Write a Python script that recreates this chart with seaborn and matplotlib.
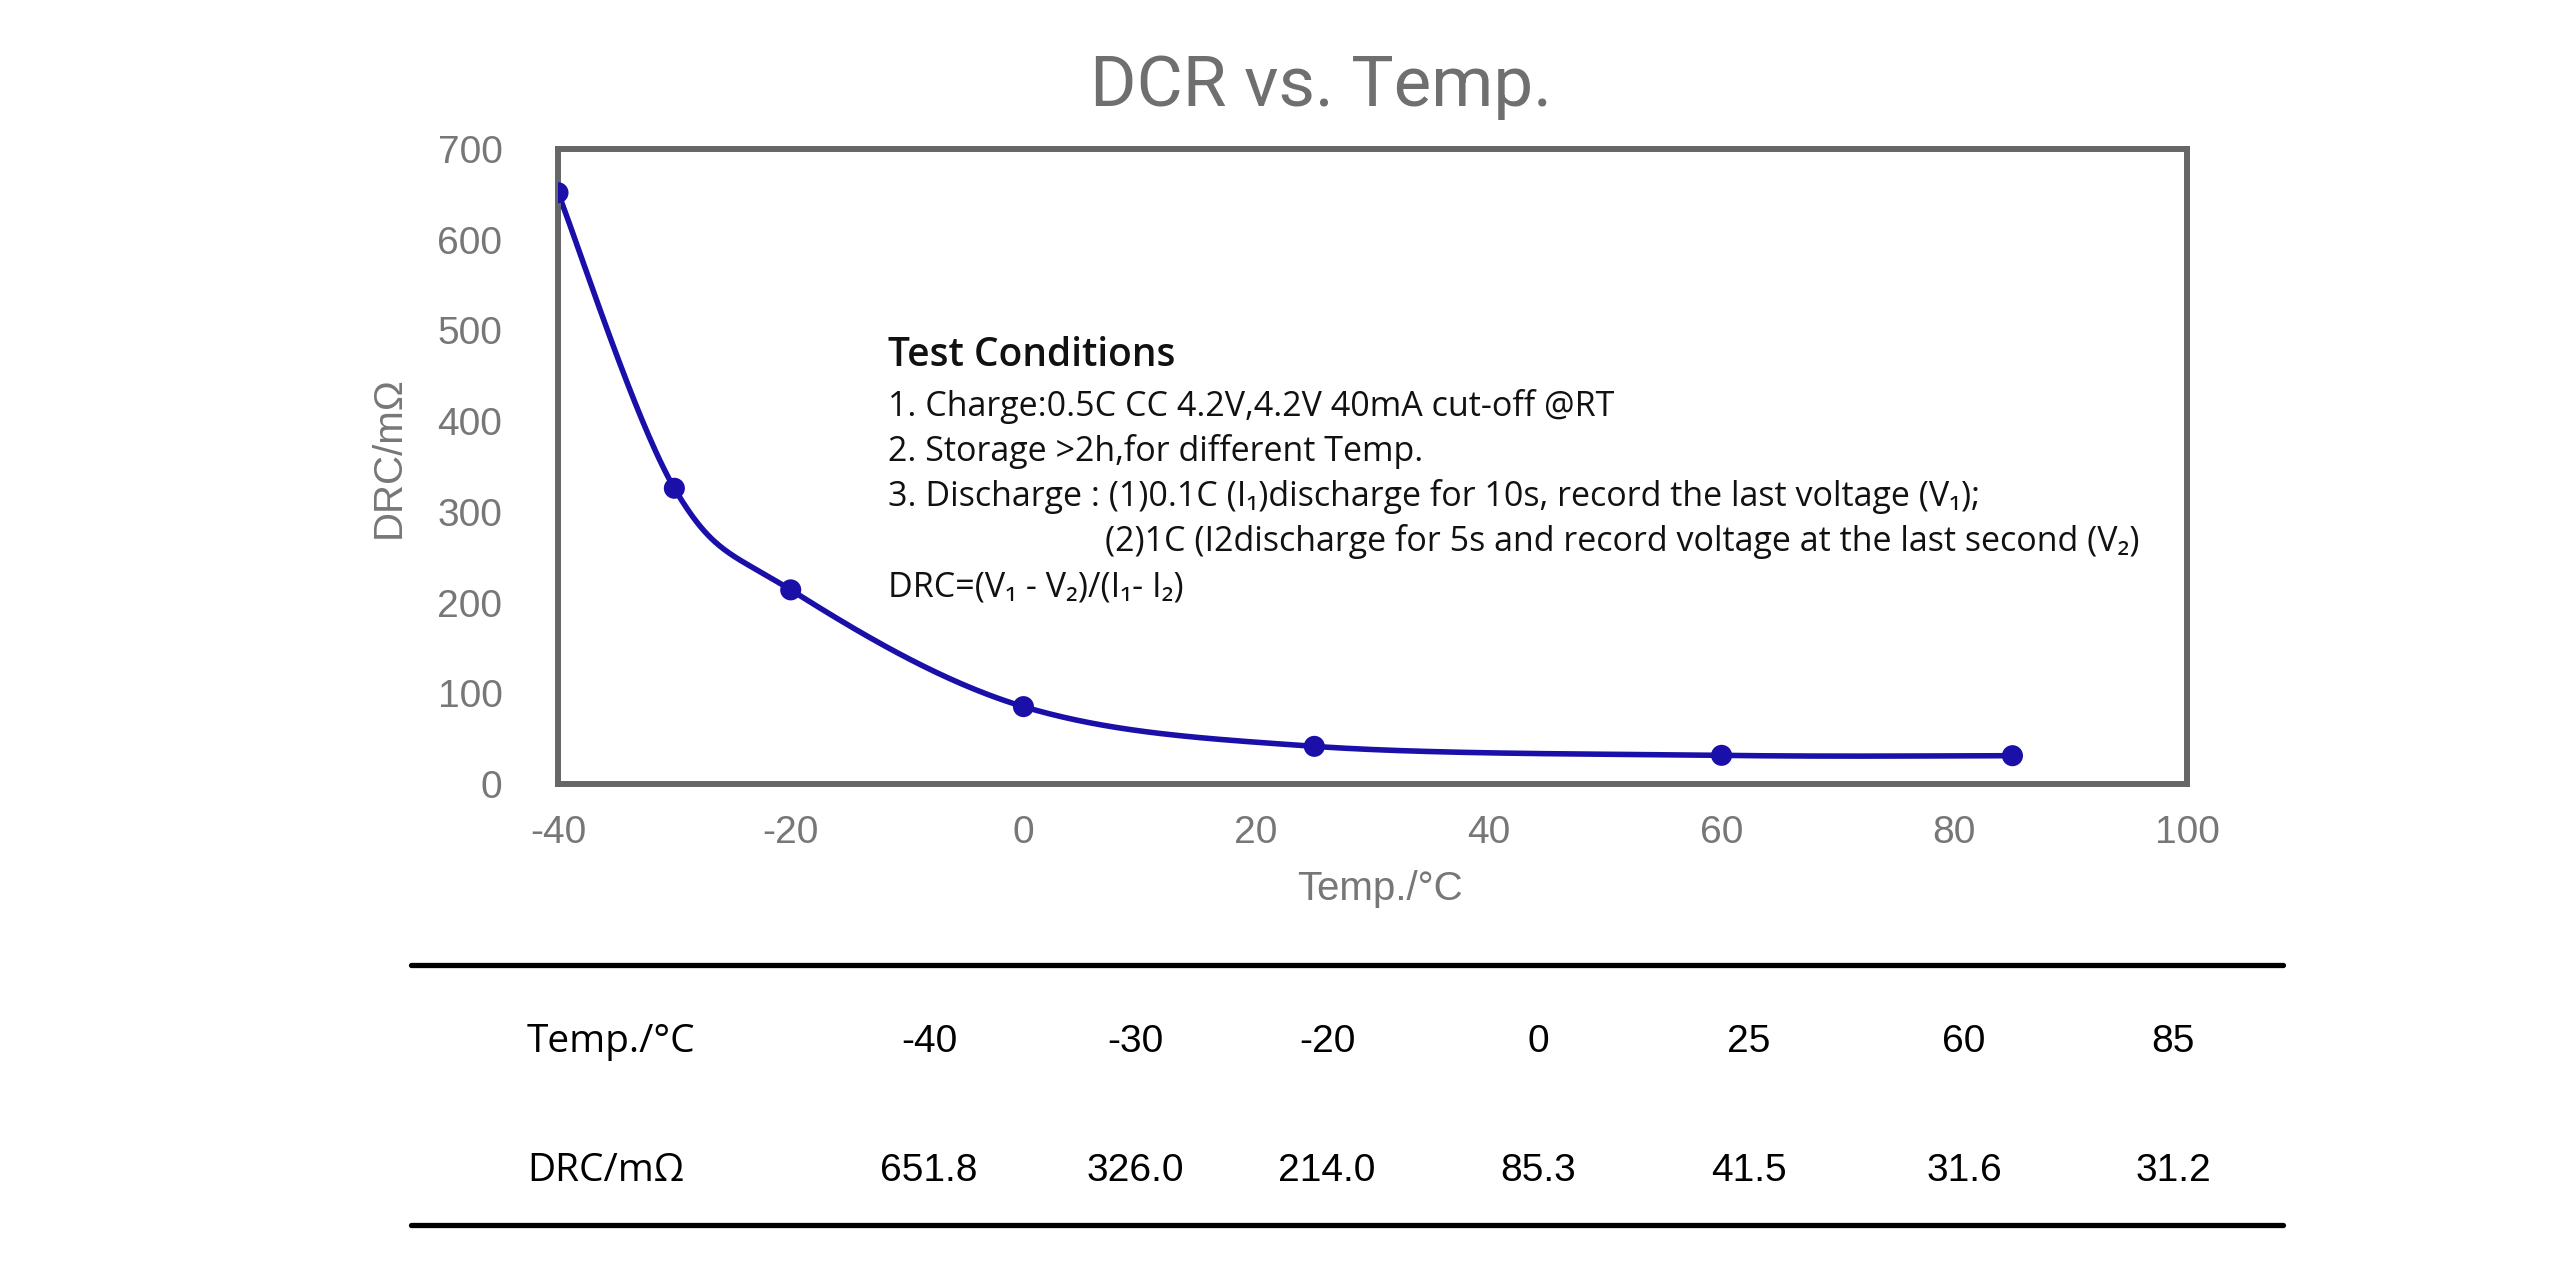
import numpy as np
import pandas as pd
import matplotlib
matplotlib.use("Agg")
import matplotlib.pyplot as plt
import seaborn as sns

# ---- data ----
temps = [-40, -30, -20, 0, 25, 60, 85]
drc = [651.8, 326.0, 214.0, 85.3, 41.5, 31.6, 31.2]
temp_labels = ["-40", "-30", "-20", "0", "25", "60", "85"]
drc_labels = ["651.8", "326.0", "214.0", "85.3", "41.5", "31.6", "31.2"]
x_ticks = [-40, -20, 0, 20, 40, 60, 80, 100]
y_ticks = [0, 100, 200, 300, 400, 500, 600, 700]
title = "DCR vs. Temp."
x_label = "Temp./°C"
y_label = "DRC/mΩ"
cond_title = "Test Conditions"
cond_lines = [
    "1. Charge:0.5C CC 4.2V,4.2V 40mA cut-off @RT",
    "2. Storage >2h,for different Temp.",
    "3. Discharge : (1)0.1C (I₁)discharge for 10s, record the last voltage (V₁);",
    "(2)1C (I2discharge for 5s and record voltage at the last second (V₂)",
    "DRC=(V₁ - V₂)/(I₁- I₂)",
]
row_headers = ["Temp./°C", "DRC/mΩ"]

# ---- style ----
sns.set_theme(style="white")
plt.rcParams["font.family"] = ["Liberation Sans", "DejaVu Sans"]
plt.rcParams["axes.unicode_minus"] = False

W, H = 2560, 1283
fig = plt.figure(figsize=(W / 100, H / 100), dpi=100)

ax_l, ax_r, ax_t, ax_b = 558, 2187, 149, 784
ax = fig.add_axes([ax_l / W, 1 - ax_b / H, (ax_r - ax_l) / W, (ax_b - ax_t) / H])
ax.set_xlim(-40, 100)
ax.set_ylim(0, 700)

# smooth curve (Excel-like Catmull-Rom smoothing) computed in screen-scaled units
sx = (ax_r - ax_l) / 140.0
sy = (ax_b - ax_t) / 700.0
P = np.column_stack([np.array(temps, float) * sx, np.array(drc, float) * sy])
n = len(P)
curve = []
for i in range(n - 1):
    p0 = P[i - 1] if i > 0 else P[i]
    p1 = P[i]
    p2 = P[i + 1]
    p3 = P[i + 2] if i + 2 < n else P[i + 1]
    c1 = p1 + (p2 - p0) / 6.0
    c2 = p2 - (p3 - p1) / 6.0
    t = np.linspace(0, 1, 60)[:, None]
    seg = (1 - t) ** 3 * p1 + 3 * (1 - t) ** 2 * t * c1 + 3 * (1 - t) * t ** 2 * c2 + t ** 3 * p2
    curve.append(seg if i == 0 else seg[1:])
curve = np.vstack(curve)
curve_df = pd.DataFrame({"x": curve[:, 0] / sx, "y": curve[:, 1] / sy})
pts_df = pd.DataFrame({"x": temps, "y": drc})

line_color = "#1a0fa8"
sns.lineplot(data=curve_df, x="x", y="y", sort=False, estimator=None,
             color=line_color, linewidth=4.0, ax=ax)
sns.scatterplot(data=pts_df, x="x", y="y", color=line_color, s=230,
                edgecolor="none", ax=ax, zorder=5)

ax.set_xticks(x_ticks)
ax.set_yticks(y_ticks)
ax.tick_params(axis="both", length=0, labelsize=28, labelcolor="#777777")
ax.tick_params(axis="y", pad=40)
ax.tick_params(axis="x", pad=22)
for sp in ax.spines.values():
    sp.set_visible(True)
    sp.set_color("#666666")
    sp.set_linewidth(4.3)
ax.grid(False)

ax.set_xlabel(x_label, fontsize=29, color="#777777")
ax.set_ylabel(y_label, fontsize=29, color="#777777")
ax.xaxis.set_label_coords(0.5046, -0.135)
ax.yaxis.set_label_coords(-0.092, 0.515)

fig.text(1321 / W, 1 - 87 / H, title, ha="center", va="center",
         fontsize=51, color="#6f6f6f", family=["Roboto", "DejaVu Sans"])

# test conditions block
tfam = ["Open Sans", "DejaVu Sans"]
def ay(ypix):
    return (ax_b - ypix) / (ax_b - ax_t)
def axx(xpix):
    return (xpix - ax_l) / (ax_r - ax_l)
ax.text(axx(888), ay(356), cond_title, transform=ax.transAxes, ha="left", va="center",
        fontsize=28, fontweight="semibold", color="#111111", family=tfam)
line_y = [407, 452, 496, 542, 588]
line_x = [888, 888, 888, 1105, 888]
for s, yy, xx in zip(cond_lines, line_y, line_x):
    ax.text(axx(xx), ay(yy), s, transform=ax.transAxes, ha="left", va="center",
            fontsize=24.5, color="#111111", family=tfam)

# table
tb_l, tb_r, tb_t, tb_b = 411, 2283, 964.5, 1224.5
tax = fig.add_axes([tb_l / W, 1 - tb_b / H, (tb_r - tb_l) / W, (tb_b - tb_t) / H])
tax.set_xlim(0, 1)
tax.set_ylim(0, 1)
tax.axis("off")
tax.axhline(1, color="black", linewidth=3.8, clip_on=False)
tax.axhline(0, color="black", linewidth=3.8, clip_on=False)
col_x = [(c - tb_l) / (tb_r - tb_l) for c in [929, 1135, 1327, 1538, 1749, 1964, 2173]]
row_y = [(tb_b - 1042) / (tb_b - tb_t), (tb_b - 1171) / (tb_b - tb_t)]
hx = (527 - tb_l) / (tb_r - tb_l)
tax.text(hx, row_y[0], row_headers[0], ha="left", va="center", fontsize=28,
         color="black", family=tfam)
tax.text(hx, row_y[1], row_headers[1], ha="left", va="center", fontsize=28,
         color="black", family=tfam)
for cx, tl, dl in zip(col_x, temp_labels, drc_labels):
    tax.text(cx, row_y[0], tl, ha="center", va="center", fontsize=28, color="black")
    tax.text(cx, row_y[1], dl, ha="center", va="center", fontsize=28, color="black")

fig.savefig("out.png", dpi=100, facecolor="white")
